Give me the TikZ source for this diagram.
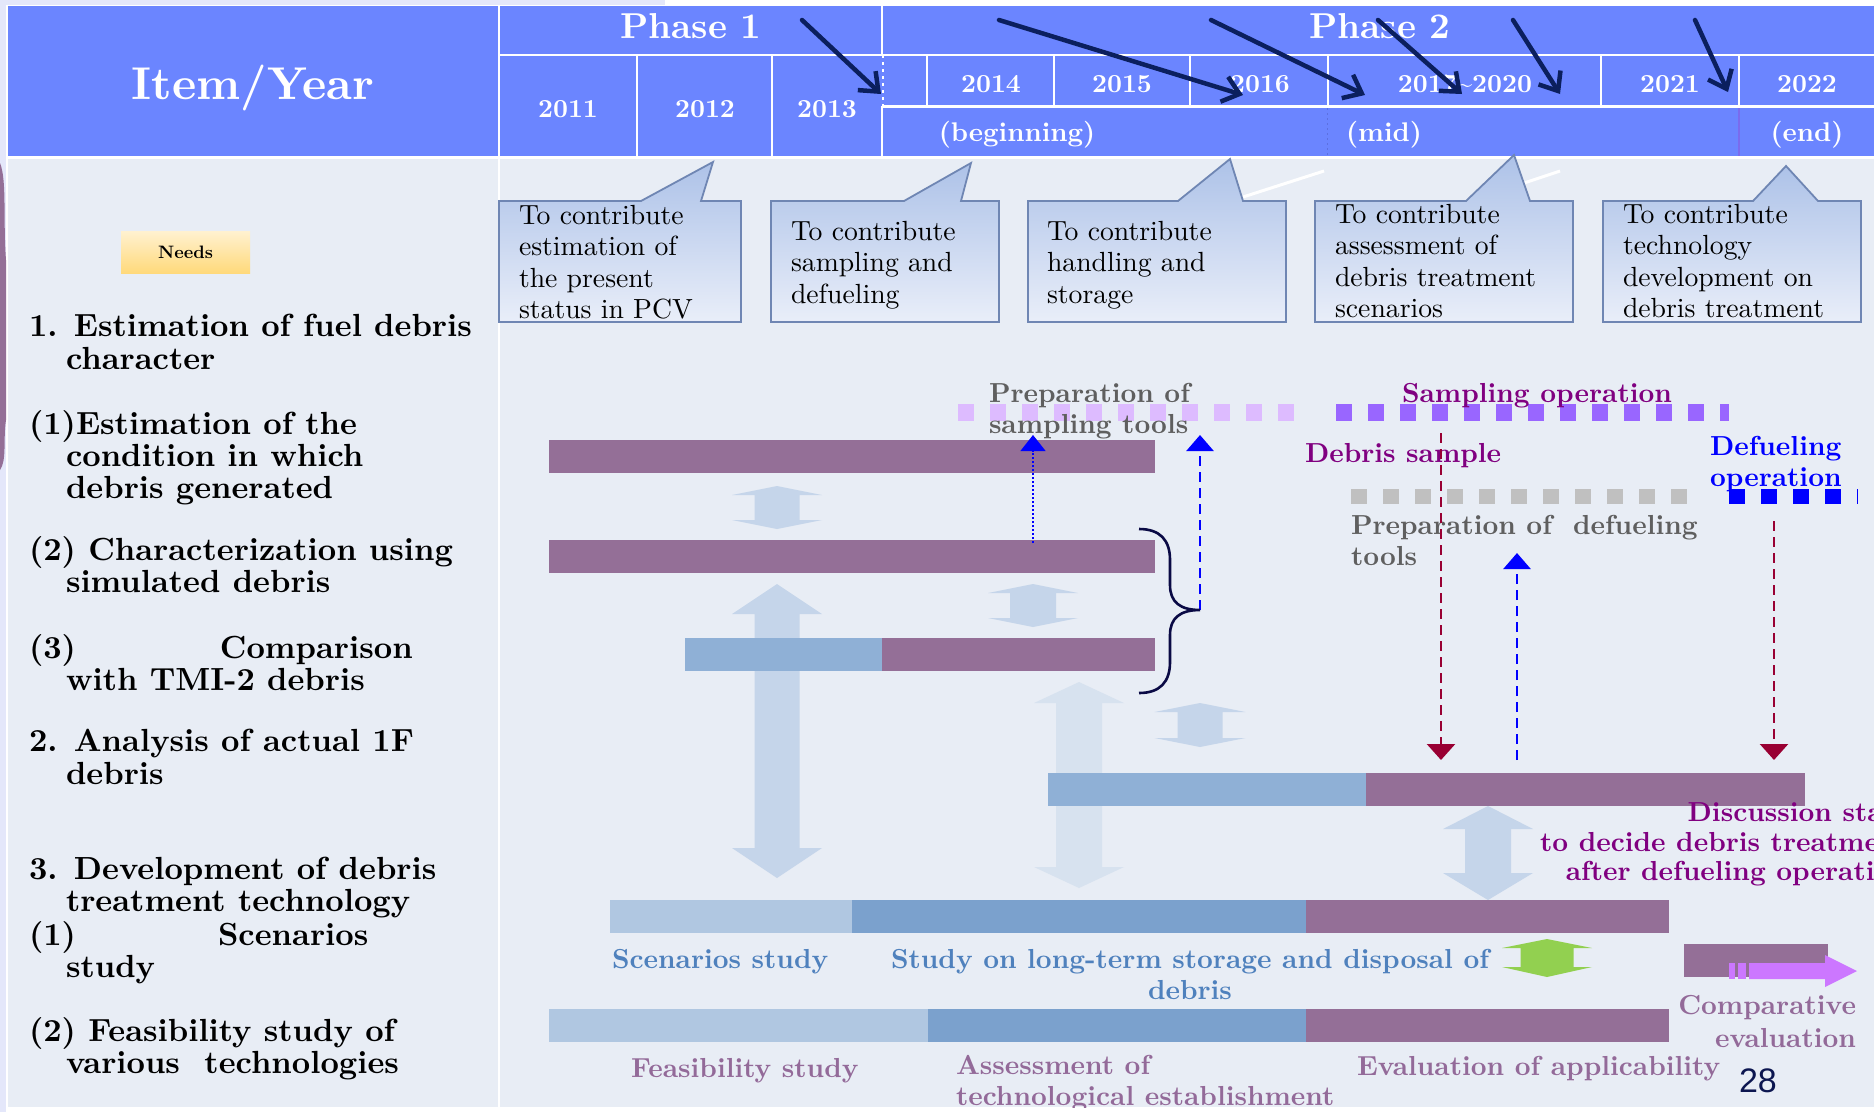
\documentclass[tikz,border=0pt]{standalone}
\usepackage{fontspec}
% keep the 10pt design of Latin Modern at every size
\setmainfont{lmroman10-regular}[Extension=.otf, BoldFont=lmroman10-bold, ItalicFont=lmroman10-italic]
\newfontfamily\pagenumfont{Liberation Sans}
\usetikzlibrary{arrows.meta}

\newcommand\setfs[2]{\fontsize{#1}{#2}\selectfont}
% vertical double-headed block arrow: x, top tip, top shoulder, bottom shoulder, bottom tip, half head width, half shaft width, colour
\newcommand\dblarrow[8]{%
  \fill[#8] (#1,#2) -- ({#1+#6},#3) -- ({#1+#7},#3) -- ({#1+#7},#4) -- ({#1+#6},#4)
    -- (#1,#5) -- ({#1-#6},#4) -- ({#1-#7},#4) -- ({#1-#7},#3) -- ({#1-#6},#3) -- cycle;}

\definecolor{hdr}{HTML}{6B85FF}
\definecolor{bodybg}{HTML}{E8EDF5}
\definecolor{edgelav}{HTML}{E4E7FA}
\definecolor{mauve}{HTML}{946F97}
\definecolor{steel}{HTML}{8FB0D6}
\definecolor{paleblue}{HTML}{B0C7E1}
\definecolor{midblue}{HTML}{7BA1CD}
\definecolor{blockarrow}{HTML}{C5D5EA}
\definecolor{blockarrowlt}{HTML}{D7E2EF}
\definecolor{callborder}{HTML}{6F86B3}
\definecolor{calltop}{HTML}{ADC2E8}
\definecolor{callbot}{HTML}{E9EEF9}
\definecolor{navy}{HTML}{0B1F5E}
\definecolor{bracenavy}{HTML}{0A0A45}
\definecolor{labgray}{HTML}{5F5F5F}
\definecolor{labpurple}{HTML}{800080}
\definecolor{labblue}{HTML}{4F81BD}
\definecolor{labmauve}{HTML}{936A99}
\definecolor{crimson}{HTML}{990033}
\definecolor{lilac}{HTML}{DDBBFF}
\definecolor{violetsq}{HTML}{9966FF}
\definecolor{silversq}{HTML}{C0C0C0}
\definecolor{pinkarrow}{HTML}{CC77FF}
\definecolor{leafgreen}{HTML}{92D050}
\definecolor{needtop}{HTML}{FFF1CF}
\definecolor{needbot}{HTML}{FFD97A}
\definecolor{pagenum}{HTML}{0C1650}
\definecolor{enddiv}{HTML}{7A6BEE}
\definecolor{middiv}{HTML}{5C70E0}

\begin{document}
\begin{tikzpicture}[x=1pt,y=-1pt,
  every node/.style={inner sep=0pt,outer sep=0pt},
  hdrtext/.style={text=white,anchor=base,font=\bfseries\setfs{26}{30}},
  hdrline/.style={draw=white,line width=2.5pt},
  leftitem/.style={anchor=north west,align=left,font=\bfseries\setfs{32}{31.6}},
  calltext/.style={anchor=north west,align=left,font=\setfs{27.7}{31.5}},
  lab/.style={font=\bfseries\setfs{27.5}{31.5}},
  bar/.style={anchor=north west,minimum height=33pt},
  callshape/.style={top color=calltop,bottom color=callbot,draw=callborder,line width=1.8pt},
  squares/.style={dash pattern=on 16pt off 16pt},
  dashedarrow/.style={line width=2.6pt,dash pattern=on 10pt off 6pt},
  navyarrow/.style={draw=navy,line width=4.5pt,line cap=round,-{Straight Barb[length=16pt,width=26pt]}}]

\path[use as bounding box] (0,0) rectangle (1874,1112);
\clip (0,0) rectangle (1874,1112);

% page ground
\fill[white] (0,0) rectangle (1874,1112);
\fill[edgelav] (0,0) rectangle (665,5);
\fill[edgelav] (0,0) rectangle (6,1112);
\fill[mauve] (0,163) .. controls (7,180) and (3,220) .. (6,260) -- (6,420)
  .. controls (3,440) and (7,460) .. (0,470) -- cycle;

% header and body panels
\fill[hdr] (8,6) rectangle (1874,157);
\fill[bodybg] (8,159) rectangle (1874,1107);

% header grid
\draw[hdrline] (499,6) -- (499,1107);
\draw[hdrline] (8,157.5) -- (1874,157.5);
\draw[hdrline] (499,55) -- (1874,55);
\draw[hdrline] (637,55) -- (637,157);
\draw[hdrline] (772,55) -- (772,157);
\draw[hdrline] (882,6) -- (882,55);
\draw[white,line width=1.5pt,dash pattern=on 3pt off 4pt] (883,55) -- (883,106);
\draw[hdrline] (882,106) -- (882,157);
\draw[hdrline] (882,106.5) -- (1874,106.5);
\foreach \xx in {927,1054,1190,1328,1601,1739}
  \draw[hdrline] (\xx,55) -- (\xx,106);
\draw[middiv,line width=1pt,dash pattern=on 2pt off 3pt] (1327,108) -- (1327,157);
\draw[enddiv,line width=2pt] (1739,108) -- (1739,156);

% header texts
\node[text=white,anchor=base,font=\bfseries\setfs{46}{50}] (itemyear) at (253,99) {Item/Year};
\node[text=white,anchor=base,font=\bfseries\setfs{36}{40}] (phaseone) at (691,38) {Phase 1};
\node[text=white,anchor=base,font=\bfseries\setfs{36}{40}] (phasetwo) at (1380,38) {Phase 2};
\node[hdrtext] (y2011) at (568,117) {2011};
\node[hdrtext] (y2012) at (705,117) {2012};
\node[hdrtext] (y2013) at (827,117) {2013};
\node[hdrtext] (y2014) at (991,92) {2014};
\node[hdrtext] (y2015) at (1122,92) {2015};
\node[hdrtext] (y2016) at (1260,92) {2016};
\node[hdrtext] (y2017) at (1465,92) {2017\textasciitilde2020};
\node[hdrtext] (y2021) at (1670,92) {2021};
\node[hdrtext] (y2022) at (1807,92) {2022};
\node[hdrtext,font=\bfseries\setfs{27}{30}] (beginning) at (1017,141) {(beginning)};
\node[hdrtext,font=\bfseries\setfs{27}{30}] (midterm) at (1384,141) {(mid)};
\node[hdrtext,font=\bfseries\setfs{27}{30}] (endterm) at (1807,141) {(end)};

% left column
\node[top color=needtop,bottom color=needbot,minimum width=129pt,minimum height=42pt,
      font=\bfseries\setfs{18}{20}] (needs) at (185.5,252.5) {Needs};
\node[leftitem] (item1) at (29,314) {\strut 1. Estimation of fuel debris\\\hspace*{37pt}character};
\node[leftitem] (item11) at (29,410) {\strut (1)Estimation of the\\\hspace*{37pt}condition in which\\\hspace*{37pt}debris generated};
\node[leftitem] (item12) at (29,536) {\strut (2) Characterization using\\\hspace*{37pt}simulated debris};
\node[leftitem] (item13) at (29,634) {\strut\makebox[191pt][l]{(3)}Comparison\\\hspace*{37pt}with TMI-2 debris};
\node[leftitem] (item2) at (29,729) {\strut 2. Analysis of actual 1F\\\hspace*{37pt}debris};
\node[leftitem,font=\bfseries\setfs{32}{30.5}] (item3) at (29,857) {\strut 3. Development of debris\\\hspace*{37pt}treatment technology};
\node[leftitem] (item31) at (29,921) {\strut\makebox[189pt][l]{(1)}Scenarios\\\hspace*{37pt}study};
\node[leftitem] (item32) at (29,1017) {\strut (2) Feasibility study of\\\hspace*{37pt}various\ \ technologies};

% faint white streaks behind the callouts
\draw[white,line width=3pt] (1243,197) -- (1324,171);
\draw[white,line width=3pt] (1524,183) -- (1560,171);

% callouts
\shadedraw[callshape] (499,201) -- (641,201) -- (713,162) -- (701,201) -- (741,201) -- (741,322) -- (499,322) -- cycle;
\shadedraw[callshape] (771,201) -- (904,201) -- (971,163) -- (961,201) -- (999,201) -- (999,322) -- (771,322) -- cycle;
\shadedraw[callshape] (1028,201) -- (1178,201) -- (1230,159) -- (1243,201) -- (1286,201) -- (1286,322) -- (1028,322) -- cycle;
\shadedraw[callshape] (1315,201) -- (1466,201) -- (1514,155) -- (1530,201) -- (1573,201) -- (1573,322) -- (1315,322) -- cycle;
\shadedraw[callshape] (1603,201) -- (1753,201) -- (1786,166) -- (1818,201) -- (1861,201) -- (1861,322) -- (1603,322) -- cycle;
\node[calltext] (need1) at (519,202) {\strut To contribute\\estimation of\\the present\\status in PCV};
\node[calltext] (need2) at (791,218) {\strut To contribute\\sampling and\\defueling};
\node[calltext] (need3) at (1047,218) {\strut To contribute\\handling and\\storage};
\node[calltext] (need4) at (1335,201) {\strut To contribute\\assessment of\\debris treatment\\scenarios};
\node[calltext] (need5) at (1623,201) {\strut To contribute\\technology\\development on\\debris treatment};

% block arrows between work items
\dblarrow{777}{486}{495}{520}{529}{45}{22.5}{blockarrow}
\dblarrow{777}{584}{614}{848}{878}{45}{22.5}{blockarrow}
\dblarrow{1033}{584}{593}{618}{627}{45}{23}{blockarrow}
\dblarrow{1079}{682}{703}{867}{888}{45}{23}{blockarrowlt}
\dblarrow{1200}{703}{712}{738}{747}{45.5}{22.5}{blockarrow}
\dblarrow{1488}{806}{829}{873}{900}{45}{23}{blockarrow}
\dblarrow{1547}{939}{948}{967}{977}{45}{26.5}{leafgreen}

% schedule bars
\node[bar,fill=mauve,minimum width=606pt] (barA) at (549,440) {};
\node[bar,fill=mauve,minimum width=606pt] (barB) at (549,540) {};
\node[bar,fill=steel,minimum width=197pt] (barCa) at (685,638) {};
\node[bar,fill=mauve,minimum width=273pt] (barCb) at (882,638) {};
\node[bar,fill=steel,minimum width=318pt] (barDa) at (1048,773) {};
\node[bar,fill=mauve,minimum width=439pt] (barDb) at (1366,773) {};
\node[bar,fill=paleblue,minimum width=242pt] (barEa) at (610,900) {};
\node[bar,fill=midblue,minimum width=454pt] (barEb) at (852,900) {};
\node[bar,fill=mauve,minimum width=363pt] (barEc) at (1306,900) {};
\node[bar,fill=paleblue,minimum width=379pt] (barFa) at (549,1009) {};
\node[bar,fill=midblue,minimum width=378pt] (barFb) at (928,1009) {};
\node[bar,fill=mauve,minimum width=363pt] (barFc) at (1306,1009) {};
\node[bar,fill=mauve,minimum width=144pt] (barG) at (1684,944) {};

% striped arrow towards comparative evaluation
\fill[pinkarrow] (1729,963) rectangle (1735,979);
\fill[pinkarrow] (1738,963) rectangle (1746,979);
\fill[pinkarrow] (1749,963) -- (1825,963) -- (1825,955) -- (1857,971) -- (1825,987) -- (1825,979) -- (1749,979) -- cycle;

% square-dotted operation lines
\coordinate (prepSa) at (958,412.5);   \coordinate (prepSb) at (1294,412.5);
\coordinate (sampOa) at (1336,412.5);  \coordinate (sampOb) at (1729,412.5);
\coordinate (prepDa) at (1351,496.5);  \coordinate (prepDb) at (1687,496.5);
\coordinate (defOa) at (1729,496.5);   \coordinate (defOb) at (1858,496.5);
\draw[lilac,line width=17pt,squares] (prepSa) -- (prepSb);
\draw[violetsq,line width=17pt,squares] (sampOa) -- (sampOb);
\draw[silversq,line width=15pt,squares] (prepDa) -- (prepDb);
\draw[blue,line width=15pt,squares] (defOa) -- (defOb);

% labels
\node[lab,text=labgray,anchor=north west,align=left] (prepStext) at (989,380) {\strut Preparation of\\sampling tools};
\node[lab,text=labpurple,anchor=base west] (sampOtext) at (1402,402) {Sampling operation};
\node[lab,text=labpurple,anchor=base west] (debsample) at (1305,462) {Debris sample};
\node[lab,text=blue,anchor=north west,align=left] (defOtext) at (1710,433) {\strut Defueling\\operation};
\node[lab,text=labgray,anchor=north west,align=left] (prepDtext) at (1351,512) {\strut Preparation of\ \ defueling\\tools};
\node[lab,text=labpurple,anchor=north east,align=right,font=\bfseries\setfs{27.5}{29.5}] (discuss) at (1908,801)
  {\strut Discussion start\\to decide debris treatment\\after defueling operation};
\node[lab,text=labblue,anchor=base west] (scenstudy) at (612,968) {Scenarios study};
\node[lab,text=labblue,anchor=north,align=center] (storage) at (1190,946) {\strut Study on long-term storage and disposal of\\debris};
\node[lab,text=labmauve,anchor=base west] (feasstudy) at (631,1077) {Feasibility study};
\node[lab,text=labmauve,anchor=north west,align=left] (assess) at (956,1052) {\strut Assessment of\\technological establishment};
\node[lab,text=labmauve,anchor=base west] (evalapp) at (1357,1075) {Evaluation of applicability};
\node[lab,text=labmauve,anchor=north east,align=right,font=\bfseries\setfs{27.5}{33}] (comparative) at (1856,991) {\strut Comparative\\evaluation};
\node[text=pagenum,anchor=base west,font=\pagenumfont\setfs{34}{38}] (pageno) at (1739,1092) {28};

% dashed links between milestones and bars
\coordinate (thinBot) at (1033,543);   \coordinate (thinTop) at (1033,435);
\coordinate (braceTip) at (1200,610);  \coordinate (braceUp) at (1200,435);
\coordinate (redAtop) at (1441,433);   \coordinate (redAtip) at (1441,760);
\coordinate (blueBbot) at (1517,760);  \coordinate (blueBtip) at (1517,553);
\coordinate (redCtop) at (1774,521);   \coordinate (redCtip) at (1774,760);
\draw[blue,line width=1.2pt,dash pattern=on 2pt off 2pt,-{Triangle[length=16pt,width=25pt]}] (thinBot) -- (thinTop);
\draw[blue,dashedarrow,-{Triangle[length=16pt,width=27pt]}] (braceTip) -- (braceUp);
\draw[crimson,dashedarrow,-{Triangle[length=16pt,width=28pt]}] (redAtop) -- (redAtip);
\draw[blue,dashedarrow,-{Triangle[length=16pt,width=27pt]}] (blueBbot) -- (blueBtip);
\draw[crimson,dashedarrow,-{Triangle[length=16pt,width=28pt]}] (redCtop) -- (redCtip);

% brace grouping the three characterisation bars
\draw[bracenavy,line width=2.6pt] (1139,529) .. controls (1160,529) and (1170,540) .. (1170,560)
  -- (1170,585) .. controls (1170,602) and (1180,610) .. (braceTip)
  .. controls (1180,610) and (1170,618) .. (1170,635) -- (1170,662)
  .. controls (1170,682) and (1160,693) .. (1139,693);

% phase pointers in the header
\coordinate (pa1) at (802,20);   \coordinate (pb1) at (881,94);
\coordinate (pa2) at (999,20);   \coordinate (pb2) at (1243,95);
\coordinate (pa3) at (1211,20);  \coordinate (pb3) at (1365,95);
\coordinate (pa4) at (1378,20);  \coordinate (pb4) at (1462,94);
\coordinate (pa5) at (1513,20);  \coordinate (pb5) at (1560,94);
\coordinate (pa6) at (1695,20);  \coordinate (pb6) at (1728,92);
\foreach \i in {1,...,6} \draw[navyarrow] (pa\i) -- (pb\i);

% lower page edge
\fill[white] (8,1108) rectangle (1874,1112);
\end{tikzpicture}
\end{document}
